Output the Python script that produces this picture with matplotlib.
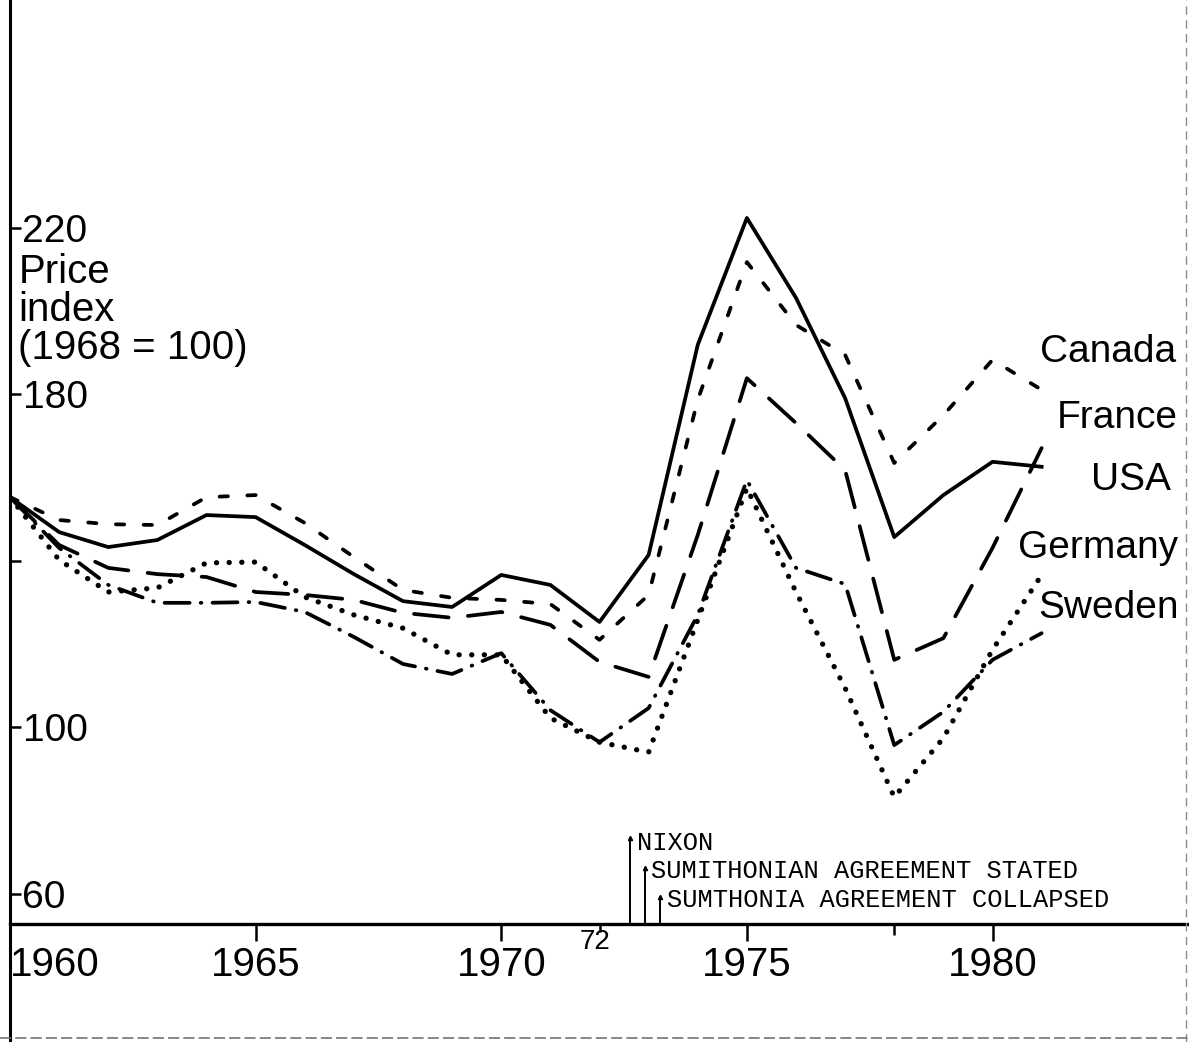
import matplotlib.pyplot as plt
from matplotlib.lines import Line2D

plt.rcParams['font.family'] = ['Liberation Sans', 'DejaVu Sans']
plt.rcParams['lines.scale_dashes'] = False

# price index values (1968 = 100 per the axis label)
years = list(range(1960, 1982))
usa = [155.3, 146.9, 143.3, 145.0, 151.0, 150.5, 143.8, 136.8, 130.3, 128.9, 136.6,
       134.2, 125.3, 141.4, 191.9, 222.4, 203.2, 179.1, 145.7, 155.8, 163.8, 162.6]
canada = [155.3, 149.8, 148.8, 148.6, 155.3, 155.8, 149.1, 140.9, 133.0, 131.1, 130.6,
          129.6, 121.0, 131.8, 178.7, 211.8, 196.7, 189.5, 163.5, 175.0, 188.3, 181.1]
france = [155.3, 143.8, 138.3, 136.8, 136.1, 132.5, 131.8, 130.6, 127.5, 126.3, 127.7,
          124.6, 115.7, 112.1, 146.2, 183.9, 173.1, 161.8, 116.2, 121.4, 143.1, 167.1]
germany = [155.3, 143.1, 134.2, 129.9, 129.9, 130.1, 127.7, 121.7, 115.2, 112.8, 117.8,
           104.1, 96.4, 104.6, 127.0, 159.4, 138.3, 134.4, 95.7, 103.7, 116.2, 122.6]
sweden = [155.3, 140.2, 132.5, 133.5, 139.5, 139.7, 131.3, 127.0, 123.8, 117.4, 117.4,
          102.2, 96.4, 94.0, 125.8, 157.5, 132.5, 109.4, 83.2, 97.4, 118.6, 136.6]

series_names = ['Canada', 'France', 'USA', 'Germany', 'Sweden']

yticks = [60, 100, 140, 180, 220]
ytick_labels = ['60', '100', '', '180', '220']
xticks = [1960, 1965, 1970, 1972, 1975, 1978, 1980]
xtick_labels = ['1960', '1965', '1970', '', '1975', '', '1980']

events = ['NIXON', 'SUMITHONIAN AGREEMENT STATED', 'SUMTHONIA AGREEMENT COLLAPSED']
event_years = [1972.63, 1972.93, 1973.24]
event_tops = [73.4, 66.2, 59.2]

W, H = 1189, 1042
fig = plt.figure(figsize=(W / 100, H / 100), dpi=100)
ax = fig.add_axes([10 / W, (H - 924) / H, (W - 10) / W, 924 / H])

ax.plot(years, usa, color='k', lw=2.7, solid_joinstyle='round')
ax.plot(years, canada, color='k', lw=2.7, linestyle=(0, (6, 14)), dash_capstyle='round')
ax.plot(years, france, color='k', lw=2.7, linestyle=(0, (25, 14)), dash_capstyle='round')
ax.plot(years, germany, color='k', lw=2.7, linestyle=(0, (18, 8, 0.5, 8)), dash_capstyle='round')
ax.plot(years, sweden, color='k', lw=3.8, linestyle=(0, (0.1, 9)), dash_capstyle='round')

ax.set_xlim(1960, 1984.0)
ax.set_ylim(52.7, 274.8)

for s in ['top', 'right', 'left']:
    ax.spines[s].set_visible(False)
ax.spines['bottom'].set_linewidth(2.4)

ax.set_yticks(yticks)
ax.set_yticklabels(ytick_labels)
ax.tick_params(axis='y', direction='in', length=8, width=1.8, pad=-9, labelsize=28)
for lab in ax.get_yticklabels():
    lab.set_ha('left')

ax.set_xticks(xticks)
ax.set_xticklabels(xtick_labels)
ax.tick_params(axis='x', direction='out', length=12, width=1.8, pad=4, labelsize=29)
ax.get_xticklabels()[0].set_ha('left')
ax.xaxis.get_major_ticks()[3].tick1line.set_markersize(6)
ax.xaxis.get_major_ticks()[5].tick1line.set_markersize(8)
ax.text(1971.9, -0.02, '72', transform=ax.get_xaxis_transform(), fontsize=20,
        ha='center', va='center')

ax.text(0.007, 200.3, 'Price\nindex\n(1968 = 100)', transform=ax.get_yaxis_transform(),
        fontsize=29, ha='left', va='center', linespacing=1.0)

# labels at the right end of the lines
label_x = [1983.73, 1983.77, 1983.63, 1983.77, 1983.79]
label_y = [190.2, 174.3, 159.4, 143.1, 128.7]
for name, lx, ly in zip(series_names, label_x, label_y):
    ax.text(lx, ly, name, fontsize=28, ha='right', va='center')

# event markers near the x axis
text_x = [1972.77, 1973.05, 1973.38]
text_y = [72.2, 65.4, 58.5]
for ev, ex, top, tx, ty in zip(events, event_years, event_tops, text_x, text_y):
    ax.plot([ex, ex], [52.7, top], color='k', lw=1.4, clip_on=False)
    ax.plot([ex], [top], marker='^', color='k', markersize=3)
    ax.text(tx, ty, ev, family=['Liberation Mono', 'DejaVu Sans Mono'], fontsize=18.3,
            ha='left', va='center')

# scanned page frame
fig.add_artist(Line2D([10 / W, 10 / W], [0, 1], transform=fig.transFigure, color='k', lw=2.2))
fig.add_artist(Line2D([1186 / W, 1186 / W], [0, 1], transform=fig.transFigure,
                      color='0.55', lw=1, linestyle=(0, (6, 4))))
fig.add_artist(Line2D([0, 1], [4 / H, 4 / H], transform=fig.transFigure,
                      color='0.45', lw=1.2, linestyle=(0, (8, 3))))

fig.savefig('out.png', dpi=100)
